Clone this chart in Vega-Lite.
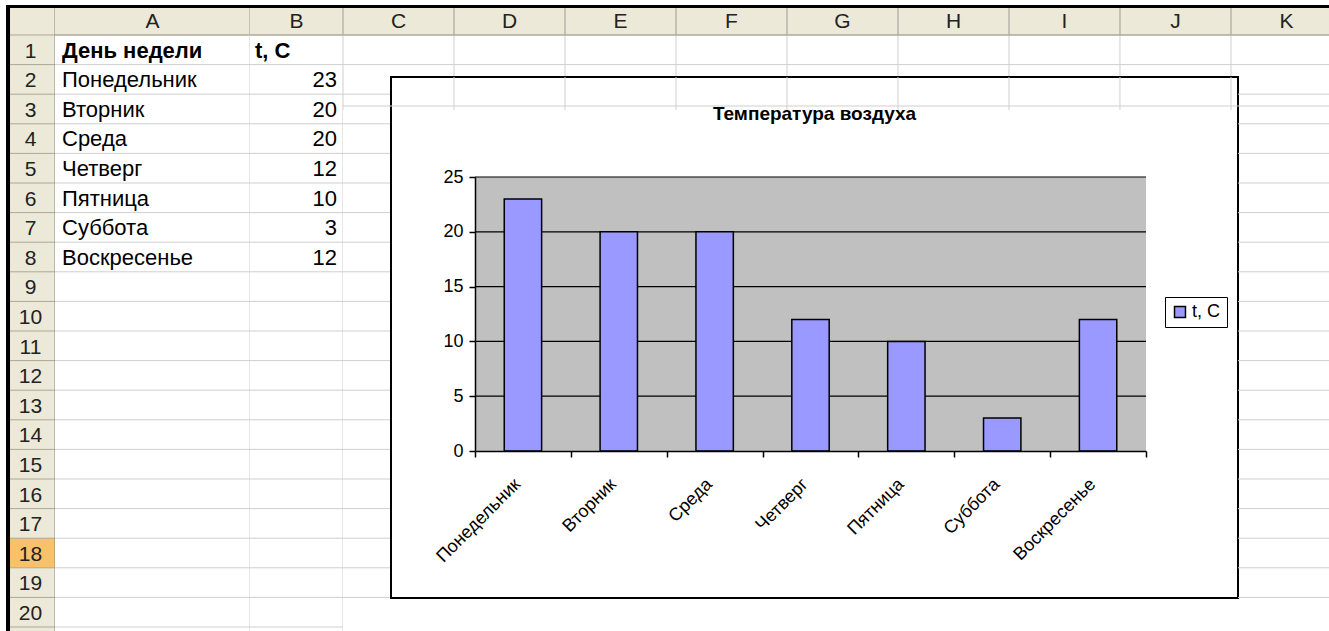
{
  "$schema": "https://vega.github.io/schema/vega-lite/v6.json",
  "background": "white",
  "padding": {"left": 6, "top": 5, "right": 0, "bottom": 0},
  "config": {"view": {"stroke": null}, "font": "Liberation Sans", "concat": {"spacing": 0}},
  "datasets": {
    "temps": [
      {"row": 2, "day": "Понедельник", "t": 23},
      {"row": 3, "day": "Вторник", "t": 20},
      {"row": 4, "day": "Среда", "t": 20},
      {"row": 5, "day": "Четверг", "t": 12},
      {"row": 6, "day": "Пятница", "t": 10},
      {"row": 7, "day": "Суббота", "t": 3},
      {"row": 8, "day": "Воскресенье", "t": 12}
    ],
    "heads": [
      {"col": "A", "row": 1, "title": "День недели"},
      {"col": "B", "row": 1, "title": "t, C"}
    ],
    "rows": [
      {"row": 0}, {"row": 1}, {"row": 2}, {"row": 3}, {"row": 4}, {"row": 5}, {"row": 6},
      {"row": 7}, {"row": 8}, {"row": 9}, {"row": 10}, {"row": 11}, {"row": 12}, {"row": 13},
      {"row": 14}, {"row": 15}, {"row": 16}, {"row": 17}, {"row": 18}, {"row": 19}, {"row": 20}
    ],
    "cols": [
      {"col": "C", "i": 0}, {"col": "D", "i": 1}, {"col": "E", "i": 2}, {"col": "F", "i": 3},
      {"col": "G", "i": 4}, {"col": "H", "i": 5}, {"col": "I", "i": 6}, {"col": "J", "i": 7}, {"col": "K", "i": 8}
    ]
  },
  "spacing": 0,
  "bounds": "flush",
  "hconcat": [
    {
      "width": 49, "height": 626,
      "view": {"fill": "#ece9d8"},
      "layer": [
        {"data": {"values": [{}]}, "mark": {"type": "rect", "color": "#f9c16a", "clip": true},
         "encoding": {
           "x": {"datum": 0, "type": "quantitative", "scale": {"domain": [0, 1], "nice": false, "zero": false}, "axis": null},
           "x2": {"datum": 1},
           "y": {"datum": 17, "type": "quantitative", "scale": {"domain": [-1.0135, 20.135], "reverse": true, "nice": false, "zero": false}, "axis": null},
           "y2": {"datum": 18}}},
        {"data": {"name": "rows"}, "mark": {"type": "rule", "color": "#aca899", "clip": true},
         "encoding": {"y": {"field": "row", "type": "quantitative", "axis": null}}},
        {"data": {"values": [{}]}, "mark": {"type": "rule", "color": "#8c8a7c", "clip": true},
         "encoding": {"x": {"datum": 1, "type": "quantitative", "axis": null}}},
        {"data": {"name": "rows"}, "transform": [{"filter": "datum.row >= 1"}],
         "mark": {"type": "text", "fontSize": 21, "color": "#222222", "align": "center", "baseline": "alphabetic", "dy": -7},
         "encoding": {"x": {"datum": 0.5, "type": "quantitative", "axis": null}, "y": {"field": "row", "type": "quantitative", "axis": null}, "text": {"field": "row", "type": "nominal"}}},
        {"data": {"values": [{}]}, "mark": {"type": "rect", "color": "black", "clip": true},
         "encoding": {"x": {"datum": 0, "type": "quantitative", "axis": null}, "x2": {"datum": 0.082}, "y": {"datum": -1.0135, "type": "quantitative", "axis": null}, "y2": {"datum": 20.2}}},
        {"data": {"values": [{}]}, "mark": {"type": "rect", "color": "black", "clip": true},
         "encoding": {"x": {"datum": 0, "type": "quantitative", "axis": null}, "x2": {"datum": 1}, "y": {"datum": -1.0135, "type": "quantitative", "axis": null}, "y2": {"datum": -0.912}}}
      ]
    },
    {
      "width": 195, "height": 626,
      "layer": [
        {"data": {"values": [{}]}, "mark": {"type": "rect", "color": "#ece9d8", "clip": true},
         "encoding": {
           "x": {"datum": 0, "type": "quantitative", "scale": {"domain": [0, 1], "nice": false, "zero": false}, "axis": null},
           "x2": {"datum": 1},
           "y": {"datum": -0.912, "type": "quantitative", "scale": {"domain": [-1.0135, 20.135], "reverse": true, "nice": false, "zero": false}, "axis": null},
           "y2": {"datum": 0}}},
        {"data": {"name": "rows"}, "transform": [{"filter": "datum.row >= 1"}], "mark": {"type": "rule", "color": "#cfcfcf", "clip": true},
         "encoding": {"y": {"field": "row", "type": "quantitative", "axis": null}}},
        {"data": {"name": "rows"}, "transform": [{"filter": "datum.row == 0"}], "mark": {"type": "rule", "color": "#aca899", "strokeWidth": 1.5, "clip": true},
         "encoding": {"y": {"field": "row", "type": "quantitative", "axis": null}}},
        {"data": {"values": [{}]}, "mark": {"type": "rule", "color": "#cfcfcf", "clip": true},
         "encoding": {"x": {"datum": 1, "type": "quantitative", "axis": null}}},
        {"data": {"values": [{}]}, "mark": {"type": "rule", "color": "#aca899", "clip": true},
         "encoding": {"x": {"datum": 1, "type": "quantitative", "axis": null}, "y": {"datum": -0.912, "type": "quantitative", "axis": null}, "y2": {"datum": 0}}},
        {"data": {"name": "heads"}, "transform": [{"filter": "datum.col == 'A'"}],
         "mark": {"type": "text", "fontSize": 21, "color": "#222222", "align": "center", "baseline": "alphabetic", "dy": -7},
         "encoding": {"x": {"datum": 0.5, "type": "quantitative", "axis": null}, "y": {"datum": 0, "type": "quantitative", "axis": null}, "text": {"field": "col", "type": "nominal"}}},
        {"data": {"name": "heads"}, "transform": [{"filter": "datum.col == 'A'"}],
         "mark": {"type": "text", "fontSize": 22, "fontWeight": "bold", "color": "black", "align": "left", "baseline": "alphabetic", "dy": -7, "dx": 7},
         "encoding": {"x": {"datum": 0, "type": "quantitative", "axis": null}, "y": {"field": "row", "type": "quantitative", "axis": null}, "text": {"field": "title", "type": "nominal"}}},
        {"data": {"name": "temps"},
         "mark": {"type": "text", "fontSize": 22, "color": "black", "align": "left", "baseline": "alphabetic", "dy": -7, "dx": 7},
         "encoding": {"x": {"datum": 0, "type": "quantitative", "axis": null}, "y": {"field": "row", "type": "quantitative", "axis": null}, "text": {"field": "day", "type": "nominal"}}},
        {"data": {"values": [{}]}, "mark": {"type": "rect", "color": "black", "clip": true},
         "encoding": {"x": {"datum": 0, "type": "quantitative", "axis": null}, "x2": {"datum": 1}, "y": {"datum": -1.0135, "type": "quantitative", "axis": null}, "y2": {"datum": -0.912}}}
      ]
    },
    {
      "width": 93, "height": 626,
      "layer": [
        {"data": {"values": [{}]}, "mark": {"type": "rect", "color": "#ece9d8", "clip": true},
         "encoding": {
           "x": {"datum": 0, "type": "quantitative", "scale": {"domain": [0, 1], "nice": false, "zero": false}, "axis": null},
           "x2": {"datum": 1},
           "y": {"datum": -0.912, "type": "quantitative", "scale": {"domain": [-1.0135, 20.135], "reverse": true, "nice": false, "zero": false}, "axis": null},
           "y2": {"datum": 0}}},
        {"data": {"name": "rows"}, "transform": [{"filter": "datum.row >= 1"}], "mark": {"type": "rule", "color": "#cfcfcf", "clip": true},
         "encoding": {"y": {"field": "row", "type": "quantitative", "axis": null}}},
        {"data": {"name": "rows"}, "transform": [{"filter": "datum.row == 0"}], "mark": {"type": "rule", "color": "#aca899", "strokeWidth": 1.5, "clip": true},
         "encoding": {"y": {"field": "row", "type": "quantitative", "axis": null}}},
        {"data": {"values": [{}]}, "mark": {"type": "rule", "color": "#cfcfcf", "clip": true},
         "encoding": {"x": {"datum": 1, "type": "quantitative", "axis": null}}},
        {"data": {"values": [{}]}, "mark": {"type": "rule", "color": "#aca899", "clip": true},
         "encoding": {"x": {"datum": 1, "type": "quantitative", "axis": null}, "y": {"datum": -0.912, "type": "quantitative", "axis": null}, "y2": {"datum": 0}}},
        {"data": {"name": "heads"}, "transform": [{"filter": "datum.col == 'B'"}],
         "mark": {"type": "text", "fontSize": 21, "color": "#222222", "align": "center", "baseline": "alphabetic", "dy": -7},
         "encoding": {"x": {"datum": 0.5, "type": "quantitative", "axis": null}, "y": {"datum": 0, "type": "quantitative", "axis": null}, "text": {"field": "col", "type": "nominal"}}},
        {"data": {"name": "heads"}, "transform": [{"filter": "datum.col == 'B'"}],
         "mark": {"type": "text", "fontSize": 22, "fontWeight": "bold", "color": "black", "align": "left", "baseline": "alphabetic", "dy": -7, "dx": 5},
         "encoding": {"x": {"datum": 0, "type": "quantitative", "axis": null}, "y": {"field": "row", "type": "quantitative", "axis": null}, "text": {"field": "title", "type": "nominal"}}},
        {"data": {"name": "temps"},
         "mark": {"type": "text", "fontSize": 22, "color": "black", "align": "right", "baseline": "alphabetic", "dy": -7, "dx": -6},
         "encoding": {"x": {"datum": 1, "type": "quantitative", "axis": null}, "y": {"field": "row", "type": "quantitative", "axis": null}, "text": {"field": "t", "type": "nominal"}}},
        {"data": {"values": [{}]}, "mark": {"type": "rect", "color": "black", "clip": true},
         "encoding": {"x": {"datum": 0, "type": "quantitative", "axis": null}, "x2": {"datum": 1}, "y": {"datum": -1.0135, "type": "quantitative", "axis": null}, "y2": {"datum": -0.912}}}
      ]
    },
    {
      "spacing": 0,
      "bounds": "flush",
      "vconcat": [
        {
          "width": 986, "height": 72,
          "layer": [
            {"data": {"values": [{}]}, "mark": {"type": "rect", "color": "#ece9d8", "clip": true},
             "encoding": {
               "x": {"datum": 0, "type": "quantitative", "scale": {"domain": [0, 8.883], "nice": false, "zero": false}, "axis": null},
               "x2": {"datum": 8.883},
               "y": {"datum": -0.912, "type": "quantitative", "scale": {"domain": [-1.0135, 1.419], "reverse": true, "nice": false, "zero": false}, "axis": null},
               "y2": {"datum": 0}}},
            {"data": {"name": "cols"}, "mark": {"type": "rule", "color": "#cfcfcf", "clip": true},
             "encoding": {"x": {"field": "i", "type": "quantitative", "axis": null}}},
            {"data": {"name": "cols"}, "mark": {"type": "rule", "color": "#aca899", "clip": true},
             "encoding": {"x": {"field": "i", "type": "quantitative", "axis": null}, "y": {"datum": -0.912, "type": "quantitative", "axis": null}, "y2": {"datum": 0}}},
            {"data": {"name": "rows"}, "transform": [{"filter": "datum.row == 0"}], "mark": {"type": "rule", "color": "#aca899", "strokeWidth": 1.5, "clip": true},
             "encoding": {"y": {"field": "row", "type": "quantitative", "axis": null}}},
            {"data": {"name": "rows"}, "transform": [{"filter": "datum.row == 1"}], "mark": {"type": "rule", "color": "#cfcfcf", "clip": true},
             "encoding": {"y": {"field": "row", "type": "quantitative", "axis": null}}},
            {"data": {"name": "cols"},
             "mark": {"type": "text", "fontSize": 21, "color": "#222222", "align": "center", "baseline": "alphabetic", "dy": -7, "dx": 55.5},
             "encoding": {"x": {"field": "i", "type": "quantitative", "axis": null}, "y": {"datum": 0, "type": "quantitative", "axis": null}, "text": {"field": "col", "type": "nominal"}}},
            {"data": {"values": [{}]}, "mark": {"type": "rect", "color": "black", "clip": true},
             "encoding": {"x": {"datum": 0, "type": "quantitative", "axis": null}, "x2": {"datum": 8.883}, "y": {"datum": -1.0135, "type": "quantitative", "axis": null}, "y2": {"datum": -0.912}}}
          ]
        },
        {
          "spacing": 0,
          "bounds": "flush",
          "hconcat": [
            {
              "width": 48, "height": 521,
              "data": {"name": "rows"},
              "transform": [{"filter": "datum.row >= 2 && datum.row <= 19"}],
              "mark": {"type": "rule", "color": "#cfcfcf", "clip": true},
              "encoding": {"y": {"field": "row", "type": "quantitative", "scale": {"domain": [1.419, 19.02], "reverse": true, "nice": false, "zero": false}, "axis": null}}
            },
            {
              "width": 847, "height": 521,
              "view": {"fill": "white", "stroke": "black", "strokeWidth": 2},
              "title": {"text": "Температура воздуха", "fontSize": 19, "fontWeight": "bold", "color": "black", "anchor": "middle", "frame": "group", "offset": -47},
              "data": {"name": "temps"},
              "layer": [
                {
                  "layer": [
                    {"data": {"values": [{}]}, "mark": {"type": "rect", "color": "#c0c0c0"},
                     "encoding": {
                       "x": {"datum": 0, "type": "quantitative", "scale": {"domain": [0, 1], "range": [84, 755], "nice": false, "zero": false}, "axis": null},
                       "x2": {"datum": 1},
                       "y": {"datum": 0, "type": "quantitative", "scale": {"domain": [0, 25], "range": [374, 100], "nice": false}},
                       "y2": {"datum": 25}}},
                    {"data": {"values": [{"v": 5}, {"v": 10}, {"v": 15}, {"v": 20}, {"v": 25}]},
                     "mark": {"type": "rule", "color": "black", "strokeWidth": 1.2},
                     "encoding": {
                       "x": {"datum": 0, "type": "quantitative", "axis": null},
                       "x2": {"datum": 1},
                       "y": {"field": "v", "type": "quantitative"}}}
                  ]
                },
                {
                  "mark": {"type": "bar", "stroke": "black", "strokeWidth": 1.5, "width": {"band": 0.39}},
                  "encoding": {
                    "x": {"field": "day", "type": "nominal", "sort": null,
                          "scale": {"type": "band", "range": [84, 755], "paddingInner": 0, "paddingOuter": 0},
                          "axis": {"title": null, "tickBand": "extent", "labelAngle": -45, "labelFontSize": 18, "labelColor": "black", "labelPadding": 18,
                                   "labelOffset": -12,
                                   "tickSize": 6, "tickColor": "black", "tickWidth": 1.5, "domainColor": "black", "domainWidth": 1.5,
                                   "offset": -147, "zindex": 1, "grid": false}},
                    "y": {"field": "t", "type": "quantitative",
                          "scale": {"domain": [0, 25], "range": [374, 100], "nice": false},
                          "axis": {"title": null, "values": [0, 5, 10, 15, 20, 25], "grid": false, "domainColor": "black", "domainWidth": 1.5,
                                   "tickColor": "black", "tickSize": 6, "tickWidth": 1.5, "labelFontSize": 18, "labelColor": "black",
                                   "labelPadding": 6, "offset": -84, "zindex": 1}},
                    "color": {"datum": "t, C", "type": "nominal", "scale": {"range": ["#9999ff"]},
                              "legend": {"orient": "none", "legendX": 1159, "legendY": 292, "title": null, "strokeColor": "black", "padding": 6,
                                         "fillColor": "white", "symbolType": "square", "symbolSize": 120, "symbolStrokeColor": "black",
                                         "symbolStrokeWidth": 1.5, "labelFontSize": 18, "labelColor": "black", "labelOffset": 3}}
                  }
                }
              ],
              "resolve": {"scale": {"x": "independent"}, "axis": {"x": "independent"}}
            },
            {
              "width": 91, "height": 521,
              "data": {"name": "rows"},
              "transform": [{"filter": "datum.row >= 2 && datum.row <= 19"}],
              "mark": {"type": "rule", "color": "#cfcfcf", "clip": true},
              "encoding": {"y": {"field": "row", "type": "quantitative", "scale": {"domain": [1.419, 19.02], "reverse": true, "nice": false, "zero": false}, "axis": null}}
            }
          ]
        },
        {
          "width": 986, "height": 33,
          "layer": [
            {"data": {"name": "cols"}, "mark": {"type": "rule", "color": "#cfcfcf", "clip": true},
             "encoding": {"x": {"field": "i", "type": "quantitative", "scale": {"domain": [0, 8.883], "nice": false, "zero": false}, "axis": null}}},
            {"data": {"name": "rows"}, "transform": [{"filter": "datum.row == 20"}], "mark": {"type": "rule", "color": "#cfcfcf", "clip": true},
             "encoding": {"y": {"field": "row", "type": "quantitative", "scale": {"domain": [19.02, 20.135], "reverse": true, "nice": false, "zero": false}, "axis": null}}}
          ]
        }
      ]
    }
  ]
}
